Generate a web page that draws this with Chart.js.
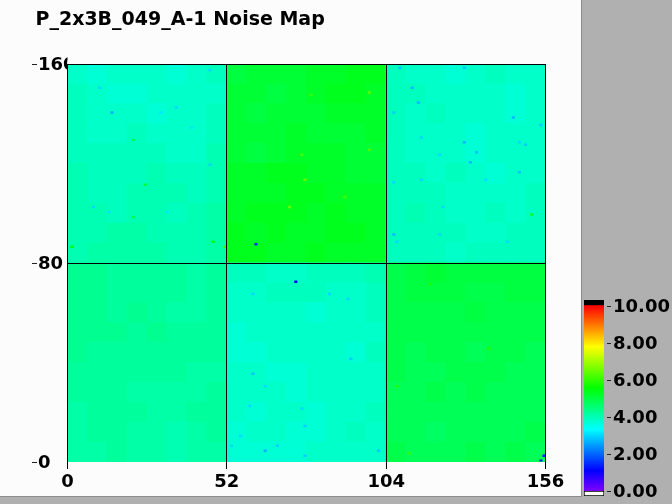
<!DOCTYPE html>
<html lang="en">
<head>
<meta charset="UTF-8">
<title>P_2x3B_049_A-1 Noise Map</title>
<script src="https://cdn.jsdelivr.net/npm/chart.js"></script>
<style>
    html, body { margin: 0; padding: 0; background: #b0b0b0; width: 672px; height: 504px; overflow: hidden; }
    #mapBox { position: absolute; left: 0; top: 0; width: 581px; height: 496px; background: #fcfcfc; border-right: 1px solid #8c8c8c; border-bottom: 1px solid #8c8c8c; }
    #scaleBox { position: absolute; left: 582px; top: 290px; width: 90px; height: 214px; }
    canvas { display: block; }
</style>
</head>
<body>
<div id="mapBox"><canvas id="noiseMap" width="581" height="496"></canvas></div>
<div id="scaleBox"><canvas id="noiseScale" width="90" height="214"></canvas></div>
<script>
const chartTitle = 'P_2x3B_049_A-1 Noise Map';
const columnTicks = [0, 52, 104, 156];
const rowTicks = [0, 80, 160];
const scaleTicks = [0, 2, 4, 6, 8, 10];

// noise per block, 6.5 columns x 8 rows, top row of the map first
const blockWidth = 6.5;
const blockHeight = 8;
const noiseBlocks = [
    [3.8, 3.7, 3.8, 3.8, 3.8, 3.7, 3.8, 3.9, 5.0, 5.1, 5.1, 5.1, 5.2, 5.2, 5.3, 5.3, 3.9, 3.8, 3.8, 3.7, 3.8, 3.9, 3.8, 3.8],
    [3.9, 3.8, 3.7, 3.7, 3.8, 3.8, 3.8, 3.8, 5.1, 5.1, 5.0, 5.1, 5.2, 5.3, 5.3, 5.2, 3.9, 3.9, 3.8, 3.8, 3.8, 3.8, 3.7, 3.8],
    [3.9, 3.8, 3.8, 3.8, 3.7, 3.8, 3.8, 3.9, 5.1, 5.0, 5.1, 5.1, 5.1, 5.2, 5.2, 5.2, 3.9, 3.8, 3.9, 3.8, 3.8, 3.8, 3.7, 3.8],
    [3.9, 3.8, 3.8, 3.9, 3.8, 3.8, 3.8, 3.9, 5.1, 5.1, 5.1, 5.2, 5.1, 5.1, 5.1, 5.2, 3.9, 3.8, 3.8, 3.8, 3.7, 3.8, 3.8, 3.8],
    [3.9, 3.9, 3.9, 3.9, 3.9, 3.8, 3.8, 4.0, 5.1, 5.0, 5.1, 5.2, 5.2, 5.2, 5.1, 5.1, 3.9, 3.8, 3.8, 3.8, 3.7, 3.8, 3.8, 3.8],
    [4.0, 3.9, 3.9, 3.9, 4.0, 3.9, 3.9, 4.0, 5.2, 5.2, 5.3, 5.3, 5.2, 5.2, 5.1, 5.1, 3.9, 3.9, 3.8, 3.9, 3.8, 3.7, 3.8, 3.8],
    [4.0, 3.9, 3.9, 4.0, 4.0, 4.0, 3.9, 4.0, 5.2, 5.2, 5.2, 5.3, 5.3, 5.2, 5.2, 5.2, 3.9, 3.9, 3.9, 3.8, 3.8, 3.8, 3.8, 3.9],
    [4.0, 4.0, 3.9, 4.0, 4.0, 3.9, 4.0, 4.1, 5.2, 5.3, 5.3, 5.3, 5.2, 5.3, 5.2, 5.2, 3.9, 4.0, 3.9, 3.8, 3.8, 3.9, 3.8, 3.9],
    [4.0, 4.0, 4.1, 4.1, 4.0, 4.0, 4.0, 4.1, 5.3, 5.2, 5.3, 5.2, 5.2, 5.3, 5.3, 5.2, 3.9, 3.9, 3.9, 3.9, 3.8, 3.8, 3.9, 3.9],
    [4.0, 4.1, 4.1, 4.1, 4.1, 4.0, 4.0, 4.1, 5.3, 5.3, 5.2, 5.2, 5.3, 5.2, 5.2, 5.2, 3.9, 3.9, 3.9, 3.8, 3.9, 3.9, 3.9, 3.9],
    [4.3, 4.3, 4.2, 4.2, 4.2, 4.2, 4.1, 4.2, 3.9, 3.9, 3.8, 3.8, 3.9, 3.9, 3.9, 4.0, 4.9, 5.0, 5.1, 5.0, 5.0, 5.0, 5.0, 5.0],
    [4.3, 4.3, 4.2, 4.2, 4.2, 4.2, 4.1, 4.2, 3.8, 3.8, 3.9, 3.9, 3.9, 3.8, 3.8, 3.9, 4.9, 5.0, 5.0, 5.0, 4.9, 4.9, 5.0, 5.0],
    [4.3, 4.3, 4.2, 4.3, 4.2, 4.1, 4.1, 4.2, 3.8, 3.8, 3.8, 3.8, 3.7, 3.8, 3.8, 3.9, 4.9, 4.9, 4.9, 4.9, 5.0, 4.9, 4.9, 4.9],
    [4.3, 4.3, 4.3, 4.2, 4.3, 4.2, 4.2, 4.2, 3.7, 3.8, 3.8, 3.8, 3.8, 3.8, 3.8, 3.8, 4.9, 4.9, 4.9, 4.9, 4.9, 4.9, 4.9, 4.9],
    [4.3, 4.2, 4.2, 4.2, 4.2, 4.2, 4.2, 4.2, 3.7, 3.7, 3.8, 3.8, 3.8, 3.8, 3.7, 3.9, 4.9, 4.8, 4.9, 4.9, 4.8, 4.9, 4.9, 4.8],
    [4.2, 4.2, 4.2, 4.2, 4.2, 4.2, 4.1, 4.1, 3.8, 3.8, 3.7, 3.7, 3.8, 3.8, 3.8, 3.8, 4.9, 4.8, 4.8, 4.9, 4.9, 4.9, 4.8, 4.8],
    [4.2, 4.2, 4.2, 4.1, 4.1, 4.1, 4.1, 4.2, 3.8, 3.8, 3.8, 3.7, 3.8, 3.8, 3.8, 3.8, 4.8, 4.8, 4.9, 4.8, 4.9, 4.8, 4.8, 4.8],
    [4.1, 4.2, 4.2, 4.2, 4.1, 4.1, 4.2, 4.2, 3.8, 3.7, 3.8, 3.8, 3.7, 3.8, 3.8, 3.9, 4.8, 4.8, 4.8, 4.8, 4.8, 4.8, 4.8, 4.8],
    [4.1, 4.2, 4.2, 4.1, 4.1, 4.0, 4.1, 4.2, 3.7, 3.8, 3.8, 3.7, 3.7, 3.8, 3.9, 3.8, 4.8, 4.8, 4.7, 4.8, 4.8, 4.8, 4.8, 4.9],
    [4.1, 4.1, 4.2, 4.1, 4.1, 4.0, 4.1, 4.1, 3.7, 3.7, 3.7, 3.7, 3.8, 3.8, 3.8, 3.8, 4.9, 4.8, 4.8, 4.8, 4.9, 4.8, 4.9, 4.8]
];

// single pixels that stand out
const oddColumns = [14, 10, 35, 46, 46, 30, 40, 8, 25, 47, 51, 1, 21, 21, 32, 13, 61, 98, 77, 72, 90, 76, 98, 79, 108, 129, 112, 114, 106, 145, 154, 129, 149, 147, 133, 121, 131, 147, 136, 115, 106, 106, 107, 143, 121, 122, 151, 115, 74, 60, 92, 64, 77, 101, 53, 68, 77, 56, 64, 59, 76, 60, 91, 85, 155, 154, 107, 111, 137, 118];
const oddRows = [140, 150, 142, 157, 119, 140, 134, 102, 111, 88, 86, 86, 129, 98, 100, 100, 87, 148, 113, 102, 106, 123, 125, 147, 158, 158, 150, 144, 140, 138, 135, 128, 127, 128, 124, 123, 120, 116, 113, 113, 112, 91, 88, 88, 91, 102, 99, 130, 72, 35, 41, 4, 14, 4, 6, 6, 2, 10, 30, 22, 21, 67, 65, 67, 2, 0, 30, 3, 45, 71];
const oddValues = [2.6, 3.0, 3.0, 3.0, 3.0, 3.1, 3.1, 3.0, 5.0, 5.5, 6.0, 5.5, 5.0, 5.0, 3.1, 3.1, 1.5, 6.3, 6.4, 6.4, 6.2, 6.2, 6.2, 6.1, 2.8, 2.8, 2.7, 2.7, 2.9, 2.7, 2.9, 2.7, 2.9, 3.0, 2.8, 3.0, 2.7, 2.8, 3.0, 3.0, 3.0, 2.7, 3.0, 3.0, 3.0, 3.0, 5.2, 3.0, 1.1, 2.8, 2.9, 2.6, 2.9, 2.8, 3.0, 2.9, 2.9, 3.0, 3.0, 3.0, 3.0, 3.0, 3.0, 3.0, 1.3, 1.3, 5.9, 6.0, 5.8, 5.8];

// colour bar of the map, value and colour
const scaleStopValues = [0, 1.11, 3.33, 5.56, 7.78, 10];
const scaleStopColors = ['#7f00ff', '#0000ff', '#00ffff', '#00ff00', '#ffff00', '#ff0000'];
const underRange = [-0.27, 0];
const fullRange = [0, 10];
const overRange = [10, 10.3];

const fontFamily = '"DejaVu Sans", sans-serif';
const tickFont = { family: fontFamily, size: 18, weight: 'bold' };

// rainbow from violet at 0 to red at 10
function noiseColor(value) {
    return 'hsl(' + (270 - 27 * value) + ', 100%, 50%)';
}

const blockPoints = [];
noiseBlocks.forEach((row, r) => {
    row.forEach((value, c) => {
        blockPoints.push({
            x: (c + 0.5) * blockWidth,
            y: [160 - (r + 1) * blockHeight, 160 - r * blockHeight],
            v: value
        });
    });
});
const oddPoints = oddColumns.map((col, i) => ({ x: col + 0.5, y: [oddRows[i], oddRows[i] + 1], v: oddValues[i] }));

// short tick dashes set away from the axis
const sideTicks = {
    id: 'sideTicks',
    afterDraw(chart, args, opts) {
        const scale = chart.scales.y;
        const ctx = chart.ctx;
        ctx.save();
        ctx.strokeStyle = '#222';
        ctx.lineWidth = 1;
        scale.ticks.forEach(t => {
            const y = Math.round(scale.getPixelForValue(t.value)) + 0.5;
            ctx.beginPath();
            ctx.moveTo(opts.from, y);
            ctx.lineTo(opts.to, y);
            ctx.stroke();
        });
        ctx.restore();
    }
};

// row labels start right of the title's left edge
const labelShift = {
    id: 'labelShift',
    afterLayout(chart) {
        chart.scales.y.left = 38;
    }
};

new Chart(document.getElementById('noiseMap'), {
    type: 'bar',
    data: {
        datasets: [
            {
                data: oddPoints,
                backgroundColor: oddPoints.map(p => noiseColor(p.v)),
                barThickness: 3.1,
                inflateAmount: 0
            },
            {
                data: blockPoints,
                backgroundColor: blockPoints.map(p => noiseColor(p.v)),
                barThickness: 20,
                inflateAmount: 0.5
            }
        ]
    },
    options: {
        responsive: false,
        animation: false,
        grouped: false,
        layout: { autoPadding: false, padding: { left: 35.5, right: 35.5, top: 9, bottom: 0 } },
        plugins: {
            legend: { display: false },
            tooltip: { enabled: false },
            sideTicks: { from: 32, to: 37 },
            title: {
                display: true,
                text: chartTitle,
                align: 'start',
                color: '#000',
                font: { family: fontFamily, size: 19, weight: 'bold', lineHeight: 1.2 },
                padding: { top: 0, bottom: 32.2 }
            }
        },
        scales: {
            x: {
                type: 'linear',
                offset: false,
                min: 0,
                max: 156,
                afterBuildTicks: scale => { scale.ticks = columnTicks.map(value => ({ value })); },
                afterFit: scale => { scale.height = 34; },
                border: { display: false },
                grid: { offset: false, color: '#000', z: 1, tickLength: 7, tickColor: '#000' },
                ticks: { color: '#000', font: tickFont, padding: 3, maxRotation: 0 }
            },
            y: {
                type: 'linear',
                min: 0,
                max: 160,
                afterBuildTicks: scale => { scale.ticks = rowTicks.map(value => ({ value })); },
                afterFit: scale => { scale.width = 32; },
                border: { display: false },
                grid: {
                    color: ctx => (ctx.tick && ctx.tick.value === 0 ? 'rgba(0,0,0,0)' : '#000'),
                    z: 1,
                    drawTicks: false
                },
                ticks: { color: '#000', font: tickFont, crossAlign: 'far', padding: 0, labelOffset: 1.5 }
            }
        }
    },
    plugins: [sideTicks, labelShift]
});

new Chart(document.getElementById('noiseScale'), {
    type: 'bar',
    data: {
        labels: ['noise'],
        datasets: [
            { data: [underRange], backgroundColor: '#fff', borderColor: '#000', borderWidth: 1, borderSkipped: false },
            {
                data: [fullRange],
                backgroundColor: ctx => {
                    const { chart } = ctx;
                    if (!chart.chartArea) return '#000';
                    const scale = chart.scales.y;
                    const gradient = chart.ctx.createLinearGradient(0, scale.getPixelForValue(0), 0, scale.getPixelForValue(10));
                    scaleStopValues.forEach((v, i) => gradient.addColorStop(v / 10, scaleStopColors[i]));
                    return gradient;
                },
                borderWidth: 0
            },
            { data: [overRange], backgroundColor: '#000', borderWidth: 0 }
        ]
    },
    options: {
        responsive: false,
        animation: false,
        grouped: false,
        barPercentage: 1,
        categoryPercentage: 1,
        layout: { autoPadding: false, padding: { left: 2, right: 0, top: 10, bottom: 8 } },
        plugins: {
            legend: { display: false },
            tooltip: { enabled: false },
            sideTicks: { from: 25, to: 29 }
        },
        scales: {
            x: { display: false },
            y: {
                position: 'right',
                min: -0.27,
                max: 10.3,
                afterBuildTicks: scale => { scale.ticks = scaleTicks.map(value => ({ value })); },
                afterFit: scale => {
                    scale.width = 68;
                    scale.paddingTop = 0;
                    scale.paddingBottom = 0;
                },
                border: { display: false },
                grid: { display: false, drawTicks: false },
                ticks: {
                    color: '#000',
                    font: tickFont,
                    padding: 9,
                    labelOffset: 1.5,
                    callback: value => value.toFixed(2)
                }
            }
        }
    },
    plugins: [sideTicks]
});
</script>
</body>
</html>
